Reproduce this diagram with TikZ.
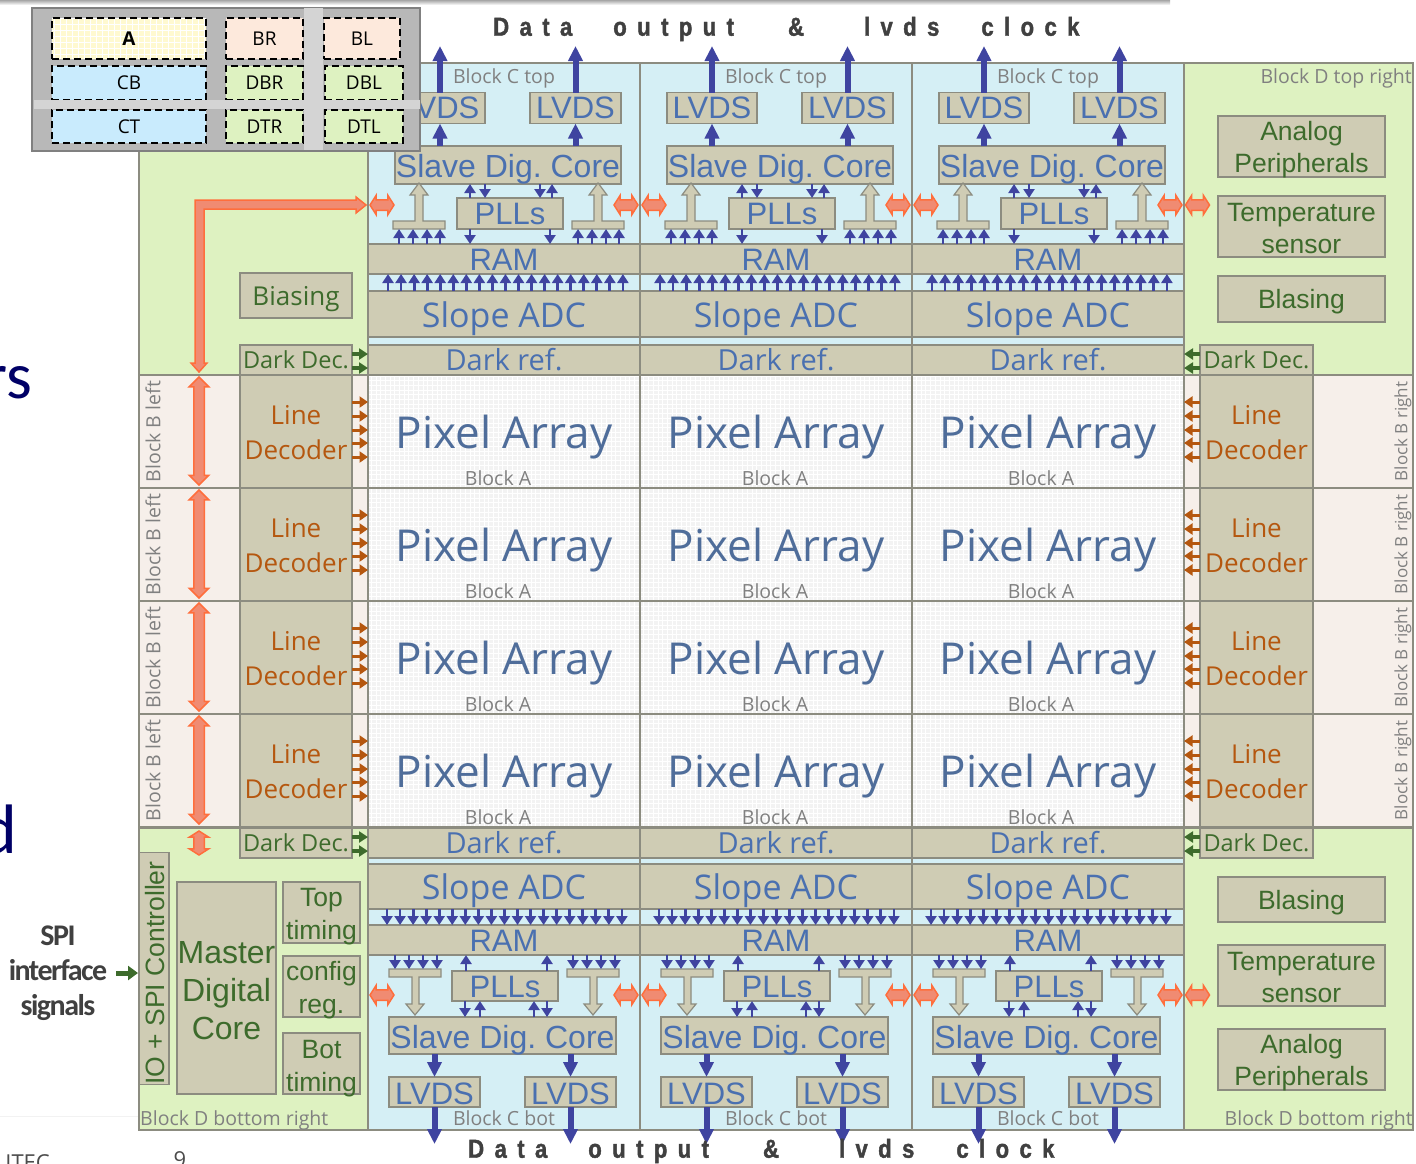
\documentclass[tikz,border=0pt]{standalone}
\usepackage{fontspec}
\usepackage{xcolor}
\usepackage{tikz}
\usetikzlibrary{arrows.meta,shapes.arrows,positioning,calc}
\setmainfont{Open Sans}
\newfontfamily\arialfont{Liberation Sans}
\newfontfamily\calibrifont{Carlito}
\newfontfamily\spifont[LetterSpace=-5]{Carlito}
\newfontfamily\headfont[LetterSpace=40,FakeStretch=0.85,BoldFeatures={FakeBold=1.5}]{Liberation Sans}
\definecolor{blktan}{HTML}{CFCCB4}
\definecolor{edgegray}{HTML}{8C8C80}
\definecolor{cblue}{HTML}{D5EFF5}
\definecolor{dgreen}{HTML}{DEF2C1}
\definecolor{bpink}{HTML}{F6EFEA}
\definecolor{pixgray}{HTML}{F3F3F3}
\definecolor{txtblue}{HTML}{4A70B0}
\definecolor{pixblue}{HTML}{4F6D9A}
\definecolor{txtgreen}{HTML}{3D6B2C}
\definecolor{txtbrown}{HTML}{B5570F}
\definecolor{arrblue}{HTML}{3F44A0}
\definecolor{redfill}{HTML}{F08B72}
\definecolor{rededge}{HTML}{FF6E3C}
\definecolor{lblgray}{HTML}{808080}
\definecolor{legyellow}{HTML}{FFF9D0}
\definecolor{legpeach}{HTML}{FDE9DC}
\definecolor{legblue}{HTML}{C9EBFD}
\definecolor{leggreen}{HTML}{DEF2C1}
\newcommand{\lowtext}[2]{\raisebox{-#1pt}[\dimexpr\height-4pt\relax][\dimexpr\depth-4pt\relax]{\begin{tabular}{@{}c@{}}#2\end{tabular}}}
\begin{document}
\begin{tikzpicture}[
  x=1pt, y=-1pt,
  sz/.style 2 args={minimum width=#1, minimum height=#2, inner sep=0pt, outer sep=0pt},
  area/.style={draw=edgegray, line width=1.3pt},
  box/.style={draw=edgegray, fill=blktan, line width=1.3pt, align=center},
  bluebox/.style={box, text=txtblue, font=\arialfont\fontsize{31}{36}\selectfont},
  greenbox/.style={box, text=txtgreen, font=\arialfont\fontsize{26.5}{32}\selectfont},
  openblue/.style={box, text=txtblue, font=\fontsize{34}{40}\selectfont},
  refbox/.style={box, text=txtblue, font=\fontsize{29}{36}\selectfont},
  darkdec/.style={box, text=txtgreen, font=\fontsize{23.5}{28}\selectfont},
  linedec/.style={box, text=txtbrown, font=\fontsize{26}{35}\selectfont},
  lbl/.style={text=lblgray, font=\fontsize{19.5}{23}\selectfont, inner sep=0pt},
  bigarr/.style={-{Triangle[length=15pt,width=14pt]}, line width=6pt, arrblue},
  sarr/.style={-{Triangle[length=9pt,width=11pt]}, line width=2.8pt, arrblue},
  garr/.style={-{Triangle[length=9pt,width=11pt]}, line width=3.5pt, txtgreen},
  barr/.style={-{Triangle[length=8.5pt,width=11pt]}, line width=3pt, txtbrown},
  tarrow/.style={draw=edgegray, fill=blktan, line width=1.2pt, line join=miter},
  redarr/.style={double arrow, draw=rededge, fill=redfill, line width=1.5pt,
    double arrow head extend=4.5pt, inner sep=0pt, inner ysep=4.5pt},
  redside/.style={redarr, minimum height=24pt, double arrow tip angle=115},
  legcell/.style={draw=black, dashed, line width=2pt, dash pattern=on 7pt off 4pt,
    font=\fontsize{19}{23}\selectfont}
]
  \useasboundingbox (0,0) rectangle (1416,1163);
  \shade[top color=gray!70, bottom color=white] (0,0) rectangle (1170,5);
  \draw[gray!10] (0,1116) -- (139,1116);

  % cut off text at the page edges
  \node[anchor=base east, inner sep=0pt, text=blue!40!black, font=\calibrifont\fontsize{66}{70}\selectfont] (frags) at (32,398) {rs};
  \node[anchor=base east, inner sep=0pt, text=blue!40!black, font=\calibrifont\fontsize{70}{70}\selectfont] (fragd) at (17,853) {d};
  \node[anchor=base east, inner sep=0pt, text=black!70, font=\fontsize{22}{22}\selectfont] (fragitec) at (50,1170) {ITEC};
  \node[anchor=base, inner sep=0pt, text=black!70, font=\fontsize{22}{22}\selectfont] (fragnine) at (180,1167) {9};

  % block D corners
  \node[area, fill=dgreen, sz={229}{312}] (dtl) at (253.5,219) {};
  \node[area, fill=dgreen, sz={229}{312}] (dtr) at (1298.5,219) {};
  \node[area, fill=dgreen, sz={229}{302}] (dbl) at (253.5,979) {};
  \node[area, fill=dgreen, sz={229}{302}] (dbr) at (1298.5,979) {};

  % pixel rows with line decoders
  \foreach \ry [count=\m] in {375,488,601,714} {
    \node[area, fill=bpink, sz={229}{113}] (bl\m) at (253.5,\ry+56.5) {};
    \node[area, fill=bpink, sz={229}{113}] (br\m) at (1298.5,\ry+56.5) {};
    \node[lbl, rotate=90] (bllbl\m) at (153,\ry+56.5) {Block B left};
    \node[lbl, font=\fontsize{17}{20}\selectfont, rotate=90] (brlbl\m) at (1403,\ry+56.5) {Block B right};
    \node[linedec, sz={112}{113}] (ldl\m) at (296,\ry+56.5) {\lowtext{3}{Line\\Decoder}};
    \node[linedec, sz={113}{113}] (ldr\m) at (1256.5,\ry+56.5) {\lowtext{3}{Line\\Decoder}};
    \node[redarr, rotate=90, minimum height=108pt] (red\m) at (199,\ry+56) {};
    \foreach \cx/\ax [count=\n] in {368/498,640/775,912/1041} {
      \node[fill=pixgray, sz={272}{113}] (pixbg\m-\n) at (\cx+136,\ry+56.5) {};
      \draw[white, line width=0.9pt, step=4.7pt] (pixbg\m-\n.south west) grid (pixbg\m-\n.north east);
      \node[area, text=pixblue, font=\fontsize{44}{50}\selectfont, sz={272}{113}] (pix\m-\n) at (pixbg\m-\n) {\lowtext{7}{Pixel Array}};
      \node[lbl] (pixlbl\m-\n) at (\ax,\ry+103) {Block A};
    }
    \foreach \dy in {27,41,55,68,82} {
      \draw[barr] ($(ldl\m.north east)+(0,\dy)$) -- ($(pix\m-1.north west)+(0,\dy)$);
      \draw[barr] ($(ldr\m.north west)+(0,\dy)$) -- ($(pix\m-3.north east)+(0,\dy)$);
    }
  }

  % columns of block C
  \foreach \cx [count=\n] in {368,640,912} {
    % top half
    \node[area, fill=cblue, sz={272}{312}] (ctop\n) at (\cx+136,219) {};
    \node[lbl] (ctoplbl\n) at (\cx+136,78) {Block C top};
    \node[bluebox, sz={90}{31}] (lvdsta\n) at (\cx+72,108) {LVDS};
    \node[bluebox, sz={91}{31}] (lvdstb\n) at (\cx+207.5,108) {LVDS};
    \node[bluebox, font=\arialfont\fontsize{32}{36}\selectfont, sz={226}{38}] (coret\n) at (\cx+140,165) {\lowtext{5}{Slave Dig.\ Core}};
    \node[bluebox, sz={106}{31}] (pllt\n) at (\cx+142,213.5) {\lowtext{4}{PLLs}};
    \node[bluebox, sz={272}{30}] (ramt\n) at (\cx+136,259) {\lowtext{4}{RAM}};
    \node[openblue, sz={272}{46}] (adct\n) at (\cx+136,314) {\lowtext{5}{Slope ADC}};
    \node[refbox, sz={272}{30}] (reft\n) at (\cx+136,360) {Dark ref.};
    \coordinate (outta\n) at (\cx+72,46);
    \coordinate (outtb\n) at (\cx+207.5,46);
    \draw[bigarr] (lvdsta\n.north) -- (outta\n);
    \draw[bigarr] (lvdstb\n.north) -- (outtb\n);
    \draw[bigarr] (lvdsta\n.south |- coret\n.north) -- (lvdsta\n.south);
    \draw[bigarr] (lvdstb\n.south |- coret\n.north) -- (lvdstb\n.south);
    \foreach \i in {0,...,18}
      \draw[sarr] ($(adct\n.north west)+(20+13.05*\i,0)$) -- ($(ramt\n.south west)+(20+13.05*\i,0)$);
    \foreach \tx in {0,179} {
      \draw[tarrow, shift={(\cx+\tx,0)}] (25,229) -- (25,221) -- (47,221) -- (47,195) -- (42,195) -- (51,183)
        -- (60,195) -- (55,195) -- (55,221) -- (77,221) -- (77,229) -- cycle;
      \foreach \dx in {31,45,59,72}
        \draw[sarr] ($(ramt\n.north west)+(\tx+\dx,0)$) -- ($(ramt\n.north west)+(\tx+\dx,-15)$);
    }
    \draw[sarr] ($(pllt\n.north west)+(13,0)$) -- ($(coret\n.south west)+(75,0)$);
    \draw[sarr] ($(coret\n.south west)+(90,0)$) -- ($(pllt\n.north west)+(28,0)$);
    \draw[sarr] ($(coret\n.south west)+(145,0)$) -- ($(pllt\n.north west)+(83,0)$);
    \draw[sarr] ($(pllt\n.north west)+(95,0)$) -- ($(coret\n.south west)+(157,0)$);
    \draw[sarr] ($(pllt\n.south west)+(13,0)$) -- ($(ramt\n.north west)+(102,0)$);
    \draw[sarr] ($(pllt\n.south west)+(93,0)$) -- ($(ramt\n.north west)+(182,0)$);
    % bottom half
    \node[area, fill=cblue, sz={272}{302}] (cbot\n) at (\cx+136,979) {};
    \node[lbl] (cbotlbl\n) at (\cx+136,1118) {Block C bot};
    \node[refbox, sz={272}{30}] (refb\n) at (\cx+136,843) {Dark ref.};
    \node[openblue, sz={272}{45}] (adcb\n) at (\cx+136,886.5) {\lowtext{5}{Slope ADC}};
    \node[bluebox, sz={272}{30}] (ramb\n) at (\cx+136,940) {\lowtext{4}{RAM}};
    \node[bluebox, sz={106}{30}] (pllb\n) at (\cx+137,986) {\lowtext{4}{PLLs}};
    \node[bluebox, font=\arialfont\fontsize{32}{36}\selectfont, sz={227}{37}] (coreb\n) at (\cx+134.5,1035.5) {\lowtext{5.5}{Slave Dig.\ Core}};
    \node[bluebox, sz={91}{30}] (lvdsba\n) at (\cx+66.5,1092) {\lowtext{5}{LVDS}};
    \node[bluebox, sz={91}{30}] (lvdsbb\n) at (\cx+202.5,1092) {\lowtext{5}{LVDS}};
    \coordinate (outba\n) at (\cx+66.5,1144);
    \coordinate (outbb\n) at (\cx+202.5,1144);
    \draw[bigarr] (lvdsba\n.south) -- (outba\n);
    \draw[bigarr] (lvdsbb\n.south) -- (outbb\n);
    \draw[bigarr] (lvdsba\n.north |- coreb\n.south) -- (lvdsba\n.north);
    \draw[bigarr] (lvdsbb\n.north |- coreb\n.south) -- (lvdsbb\n.north);
    \foreach \i in {0,...,18}
      \draw[sarr] ($(adcb\n.south west)+(19+13.05*\i,0)$) -- ($(ramb\n.north west)+(19+13.05*\i,0)$);
    \foreach \tx in {0,178} {
      \draw[tarrow, shift={(\cx+\tx,0)}] (21,977) -- (21,969) -- (73,969) -- (73,977) -- (51,977) -- (51,1004) -- (56,1004)
        -- (47,1015) -- (38,1004) -- (44,1004) -- (44,977) -- cycle;
      \foreach \dx in {27,41,55,69}
        \draw[sarr] ($(ramb\n.south west)+(\tx+\dx,0)$) -- ($(ramb\n.south west)+(\tx+\dx,14)$);
    }
    \draw[sarr] ($(pllb\n.north west)+(14,0)$) -- ($(ramb\n.south west)+(98,0)$);
    \draw[sarr] ($(pllb\n.north west)+(95,0)$) -- ($(ramb\n.south west)+(179,0)$);
    \draw[sarr] ($(pllb\n.south west)+(13,0)$) -- ($(coreb\n.north west)+(76,0)$);
    \draw[sarr] ($(coreb\n.north west)+(91,0)$) -- ($(pllb\n.south west)+(28,0)$);
    \draw[sarr] ($(coreb\n.north west)+(145,0)$) -- ($(pllb\n.south west)+(82,0)$);
    \draw[sarr] ($(pllb\n.south west)+(95,0)$) -- ($(coreb\n.north west)+(158,0)$);
    % side arrows
    \foreach \yy in {205,995} {
      \node[redside] (redl\n-\yy) at (\cx+14,\yy) {};
      \node[redside] (redr\n-\yy) at (\cx+258,\yy) {};
    }
  }
  \foreach \yy in {205,995}
    \node[redside] (redd\yy) at (1197.5,\yy) {};

  % long power rail on the left
  \draw[draw=rededge, fill=redfill, line width=1.5pt] (195,363) -- (195,200) -- (356,200) -- (356,197) -- (366,205)
    -- (356,213) -- (356,209) -- (204,209) -- (204,363) -- (207,363) -- (199,372) -- (191,363) -- cycle;
  \node[redside, rotate=90] (redsmall) at (199,843) {};

  % block D top left
  \node[darkdec, font=\fontsize{26}{30}\selectfont, sz={112}{45}] (biasl) at (296,295.5) {\lowtext{4}{Biasing}};
  \node[darkdec, sz={112}{30}] (ddtl) at (296,360) {Dark Dec.};
  % block D top right
  \node[lbl, anchor=east] (dtrlbl) at (1412,78) {Block D top right};
  \node[greenbox, sz={167}{61}] (analogt) at (1301.5,146.5) {\lowtext{4}{Analog\\Peripherals}};
  \node[greenbox, sz={167}{61}] (tempt) at (1301.5,226.5) {\lowtext{5}{Temperature\\sensor}};
  \node[greenbox, sz={167}{46}] (biast) at (1301.5,299) {\lowtext{3}{Blasing}};
  \node[darkdec, sz={113}{30}] (ddtr) at (1256.5,360) {Dark Dec.};
  % block D bottom right
  \node[lbl, anchor=east] (dbrlbl) at (1413,1120) {Block D bottom right};
  \node[greenbox, sz={167}{45}] (biasb) at (1301.5,899.5) {\lowtext{4}{Blasing}};
  \node[greenbox, sz={167}{61}] (tempb) at (1301.5,975.5) {\lowtext{5}{Temperature\\sensor}};
  \node[greenbox, sz={167}{61}] (analogb) at (1301.5,1059.5) {\lowtext{4}{Analog\\Peripherals}};
  \node[darkdec, sz={113}{30}] (ddbr) at (1256.5,843) {Dark Dec.};
  % block D bottom left
  \node[lbl, anchor=west] (dbllbl) at (140,1120) {Block D bottom right};
  \node[darkdec, sz={112}{30}] (ddbl) at (296,843) {Dark Dec.};
  \node[greenbox, font=\arialfont\fontsize{26.5}{30}\selectfont, rotate=90, sz={231}{30}] (io) at (154,968.5) {\lowtext{4}{IO + SPI Controller}\hspace{9pt}};
  \node[greenbox, font=\arialfont\fontsize{32}{38}\selectfont, sz={99}{212}] (master) at (226.5,988) {\lowtext{6}{Master\\Digital\\Core}};
  \node[greenbox, font=\arialfont\fontsize{26.5}{33}\selectfont, sz={77}{61}] (toptim) at (321.5,912.5) {\lowtext{4}{Top\\timing}};
  \node[greenbox, font=\arialfont\fontsize{26.5}{33}\selectfont, sz={77}{61}] (config) at (321.5,986.5) {\lowtext{4}{config\\reg.}};
  \node[greenbox, font=\arialfont\fontsize{26.5}{33}\selectfont, sz={77}{61}] (bottim) at (321.5,1063.5) {\lowtext{5}{Bot\\timing}};
  \foreach \dy in {9,23} {
    \draw[garr] ($(ddtl.north east)+(0,\dy)$) -- ($(reft1.north west)+(0,\dy)$);
    \draw[garr] ($(ddtr.north west)+(0,\dy)$) -- ($(reft3.north east)+(0,\dy)$);
    \draw[garr] ($(ddbl.north east)+(0,\dy)$) -- ($(refb1.north west)+(0,\dy)$);
    \draw[garr] ($(ddbr.north west)+(0,\dy)$) -- ($(refb3.north east)+(0,\dy)$);
  }

  % spi input
  \node[text=black!75, align=center, font=\spifont\bfseries\fontsize{30}{35}\selectfont, inner sep=0pt] (spi) at (58,973.5) {SPI\\interface\\signals};
  \draw[-{Triangle[length=10pt,width=14pt]}, line width=5pt, txtgreen] ($(spi.east)+(9,-0.5)$) -- ($(io.north)+(-1,4.5)$);

  % headings
  \node[anchor=west, inner sep=0pt, text=black!75, font=\headfont\bfseries\fontsize{26}{30}\selectfont] (headtop) at (493,29) {Data\hspace{41pt}output\hspace{54pt}\&\hspace{60pt}lvds\hspace{42pt}clock};
  \node[anchor=west, inner sep=0pt, text=black!75, font=\headfont\bfseries\fontsize{26}{30}\selectfont] (headbot) at (468,1151) {Data\hspace{41pt}output\hspace{54pt}\&\hspace{60pt}lvds\hspace{42pt}clock};

  % legend
  \node[draw=black!50, fill=black!28, line width=2.2pt, sz={388}{143}] (legend) at (226,79.5) {};
  \node[legcell, fill=legyellow, sz={154}{41}] (lega) at (129,38.5) {};
  \draw[white, line width=0.8pt, step=6pt] (lega.south west) grid (lega.north east);
  \node[legcell, font=\bfseries\fontsize{19}{23}\selectfont, sz={154}{41}] (legatxt) at (lega) {A};
  \node[legcell, fill=legpeach, sz={77}{41}] (legbr) at (264.5,38.5) {BR};
  \node[legcell, fill=legpeach, sz={76}{41}] (legbl) at (362,38.5) {BL};
  \node[legcell, fill=legblue, sz={154}{34}] (legcb) at (129,83) {CB};
  \node[legcell, fill=leggreen, sz={77}{34}] (legdbr) at (264.5,83) {DBR};
  \node[legcell, fill=leggreen, sz={78}{34}] (legdbl) at (364,83) {DBL};
  \node[legcell, fill=legblue, sz={154}{33}] (legct) at (129,126.5) {CT};
  \node[legcell, fill=leggreen, sz={77}{33}] (legdtr) at (264.5,126.5) {DTR};
  \node[legcell, fill=leggreen, sz={78}{33}] (legdtl) at (364,126.5) {DTL};
  \node[fill=black!17, sz={386}{9}] (bandh) at (226.5,104.5) {};
  \node[fill=black!17, sz={19}{142}] (bandv) at (313.5,79) {};
\end{tikzpicture}
\end{document}
